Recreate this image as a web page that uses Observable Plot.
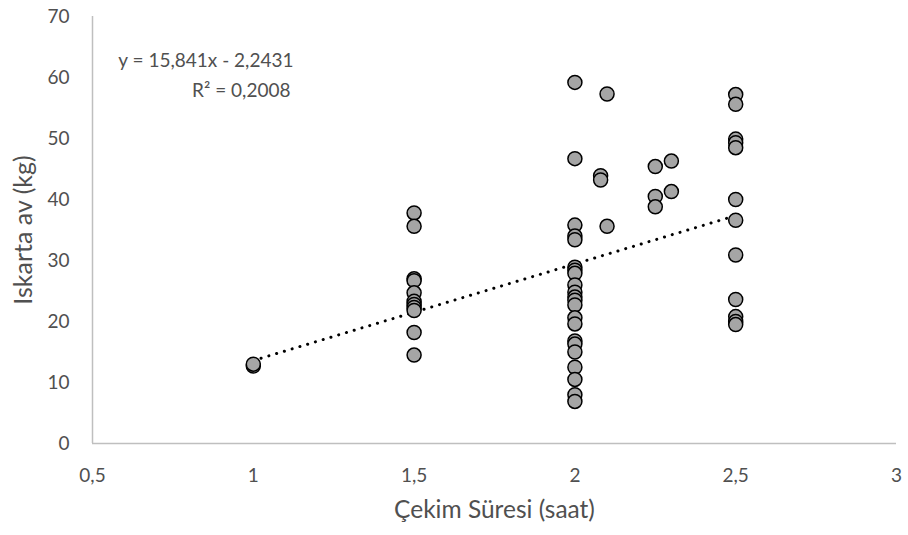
<!DOCTYPE html>
<html>
<head>
<meta charset="utf-8">
<script src="https://cdn.jsdelivr.net/npm/d3@7"></script>
<script src="https://cdn.jsdelivr.net/npm/@observablehq/plot@0.6"></script>
<style>
  html, body { margin: 0; padding: 0; background: #fff; }
</style>
</head>
<body>
<div id="chart"></div>
<script>
// Data
const xGroups = [1, 1.5, 2, 2.08, 2.1, 2.25, 2.3, 2.5];
const yAt1 = [12.7, 13.0];
const yAt1_5 = [37.8, 35.6, 27.0, 26.7, 24.7, 23.3, 22.8, 22.3, 21.8, 18.2, 14.5];
const yAt2 = [59.2, 46.7, 35.8, 34.0, 33.4, 28.9, 28.4, 27.9, 26.0, 24.8, 24.0, 23.5, 22.7, 20.6, 19.6, 16.8, 16.3, 15.0, 12.5, 10.5, 8.0, 6.9];
const yAt2_08 = [43.9, 43.2];
const yAt2_1 = [57.3, 35.6];
const yAt2_25 = [45.4, 40.5, 38.8];
const yAt2_3 = [46.3, 41.3];
const yAt2_5 = [57.2, 55.6, 49.9, 49.3, 48.5, 40.0, 36.6, 30.9, 23.6, 20.8, 20.0, 19.5];
const yGroups = [yAt1, yAt1_5, yAt2, yAt2_08, yAt2_1, yAt2_25, yAt2_3, yAt2_5];

const xTicks = [0.5, 1, 1.5, 2, 2.5, 3];
const yTicks = [0, 10, 20, 30, 40, 50, 60, 70];

// Trendline as shown on the chart
const trendSlope = 15.841;
const trendIntercept = -2.2431;
const trendRange = [1, 2.5];
const equationText = "y = 15,841x - 2,2431";
const r2Text = "R² = 0,2008";

const xTitle = "Çekim Süresi (saat)";
const yTitle = "Iskarta av (kg)";

const points = [];
xGroups.forEach((x, i) => yGroups[i].forEach(y => points.push({x, y})));
const trend = trendRange.map(x => ({x, y: trendSlope * x + trendIntercept}));

const fmt = v => String(v).replace(".", ",");
const grey = "#505050";
const axisCol = "#bfbfbf";
const font = "Lato, 'Open Sans', sans-serif";

const chart = Plot.plot({
  width: 908,
  height: 535,
  marginLeft: 92,
  marginRight: 12,
  marginTop: 16,
  marginBottom: 92,
  style: {fontFamily: font, background: "#fff"},
  x: {domain: [0.5, 3], axis: null},
  y: {domain: [0, 70], axis: null},
  marks: [
    Plot.text(xTicks, {x: d => d, frameAnchor: "bottom", dy: 32, text: fmt, fontSize: 19, fill: grey, lineAnchor: "middle"}),
    Plot.text(yTicks, {y: d => d, frameAnchor: "left", dx: -23, text: d => String(d), textAnchor: "end", fontSize: 19, fill: grey}),
    Plot.text([xTitle], {frameAnchor: "bottom", dy: 67, fontSize: 24.5, fill: grey, lineAnchor: "middle"}),
    Plot.text([yTitle], {frameAnchor: "left", dx: -69, rotate: -90, fontSize: 25, fill: grey, textAnchor: "middle", lineAnchor: "middle"}),
    Plot.ruleX([0.5], {stroke: axisCol, strokeWidth: 1.5}),
    Plot.ruleY([0], {stroke: axisCol, strokeWidth: 1.5}),
    Plot.line(trend, {x: "x", y: "y", stroke: "black", strokeWidth: 3, strokeDasharray: "0.1,8", strokeLinecap: "round"}),
    Plot.dot(points, {x: "x", y: "y", r: 7, fill: "#a5a5a5", stroke: "black", strokeWidth: 1.5}),
    Plot.text([equationText], {frameAnchor: "top-left", dx: 201, dy: 44, textAnchor: "end", lineAnchor: "middle", fontSize: 19, fill: grey}),
    Plot.text([r2Text], {frameAnchor: "top-left", dx: 198, dy: 74, textAnchor: "end", lineAnchor: "middle", fontSize: 19, fill: grey})
  ]
});
document.getElementById("chart").appendChild(chart);
</script>
</body>
</html>
